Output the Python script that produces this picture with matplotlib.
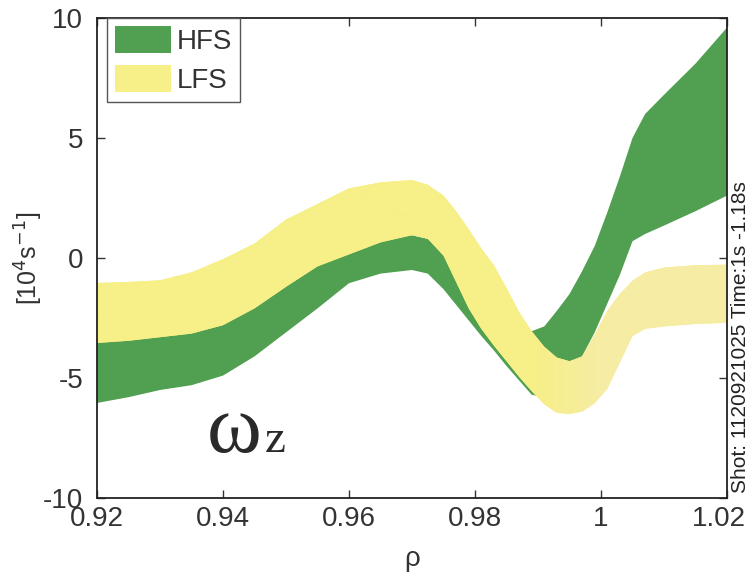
import numpy as np
import matplotlib
matplotlib.use("Agg")
import matplotlib.pyplot as plt
import matplotlib.transforms as mtransforms
from matplotlib.colors import LinearSegmentedColormap

plt.rcParams['font.family'] = ['Liberation Sans', 'DejaVu Sans']
plt.rcParams['axes.unicode_minus'] = False

# normalized radius
rho = [0.920, 0.925, 0.930, 0.935, 0.940, 0.945, 0.950, 0.955, 0.960, 0.965,
       0.970, 0.9725, 0.975, 0.977, 0.979, 0.981, 0.983, 0.985, 0.987, 0.989,
       0.991, 0.993, 0.995, 0.997, 0.999, 1.001, 1.003, 1.005, 1.007, 1.010,
       1.015, 1.020]

# HFS vorticity band [1e4 s^-1]
hfs_upper = [-3.40, -3.30, -3.15, -3.00, -2.60, -1.90, -1.00, -0.30, 0.30, 0.75,
             0.95, 0.80, 0.30, -0.30, -0.90, -1.50, -2.00, -2.50, -2.90, -3.05,
             -2.85, -2.20, -1.50, -0.55, 0.50, 1.90, 3.40, 5.00, 6.00, 6.80,
             8.10, 9.60]
hfs_lower = [-6.04, -5.80, -5.50, -5.30, -4.90, -4.10, -3.10, -2.10, -1.05, -0.65,
             -0.50, -0.65, -1.30, -1.95, -2.60, -3.25, -3.85, -4.50, -5.10, -5.70,
             -5.80, -5.50, -5.00, -4.10, -3.10, -1.90, -0.70, 0.70, 1.00, 1.35,
             1.95, 2.60]

# LFS vorticity band [1e4 s^-1]
lfs_upper = [-1.04, -1.00, -0.93, -0.60, -0.05, 0.60, 1.60, 2.25, 2.90, 3.15,
             3.25, 3.05, 2.60, 1.95, 1.20, 0.40, -0.30, -1.25, -2.25, -3.05,
             -3.70, -4.15, -4.30, -4.10, -3.20, -2.20, -1.50, -0.95, -0.60, -0.40,
             -0.30, -0.28]
lfs_lower = [-3.54, -3.45, -3.30, -3.15, -2.80, -2.10, -1.20, -0.35, 0.15, 0.65,
             0.95, 0.80, 0.10, -1.00, -2.10, -2.95, -3.65, -4.30, -4.95, -5.55,
             -6.10, -6.45, -6.50, -6.40, -6.05, -5.45, -4.35, -3.25, -2.95, -2.85,
             -2.75, -2.70]

x_ticks = [0.92, 0.94, 0.96, 0.98, 1.00, 1.02]
x_tick_labels = ["0.92", "0.94", "0.96", "0.98", "1", "1.02"]
y_ticks = [-10, -5, 0, 5, 10]
y_tick_labels = ["-10", "-5", "0", "5", "10"]

green = "#519F50"
yellow_bright = "#F7EF88"
yellow_pale = "#F6ECA4"
text_col = "#333333"

fig = plt.figure(figsize=(7.51, 5.76), dpi=100)
ax = fig.add_axes([97 / 751, 78 / 576, 630 / 751, 480 / 576])

ax.fill_between(rho, hfs_lower, hfs_upper, facecolor=green, edgecolor="none",
                label="HFS", zorder=2)
lfs = ax.fill_between(rho, lfs_lower, lfs_upper, facecolor=yellow_bright,
                      edgecolor="none", label="LFS", zorder=3)

# LFS band fades to a paler yellow past the minimum
cmap = LinearSegmentedColormap.from_list(
    "lfs", [(0.0, yellow_bright), (0.70, yellow_bright), (0.80, yellow_pale), (1.0, yellow_pale)])
grad = np.linspace(0, 1, 512).reshape(1, -1)
img = ax.imshow(grad, extent=[0.92, 1.02, -10, 10], aspect="auto", cmap=cmap,
                origin="lower", zorder=3.5, interpolation="bilinear")
img.set_clip_path(lfs.get_paths()[0], transform=ax.transData)

ax.set_xlim(0.92, 1.02)
ax.set_ylim(-10, 10)
ax.set_xticks(x_ticks)
ax.set_xticklabels(x_tick_labels)
ax.set_yticks(y_ticks)
ax.set_yticklabels(y_tick_labels)
ax.tick_params(direction="in", length=6, width=1.0, top=True, right=True,
               labelsize=20, colors=text_col, labelcolor=text_col)
ax.tick_params(axis="x", pad=6)
ax.tick_params(axis="y", pad=10)
for s in ax.spines.values():
    s.set_color("#222222")
    s.set_linewidth(1.3)
    s.set_zorder(5)

# keep the last x tick label inside the figure
last = ax.get_xticklabels()[-1]
last.set_transform(last.get_transform() +
                   mtransforms.ScaledTranslation(-6 / 72, 0, fig.dpi_scale_trans))

ax.set_xlabel("ρ", fontsize=20, color=text_col, labelpad=10)
ax.set_ylabel(r"[10$^4$s$^{-1}$]", fontsize=18, color=text_col)
ax.yaxis.set_label_coords(-0.083, 0.5)

leg = ax.legend(loc="upper left", bbox_to_anchor=(0.016, 1.0), borderaxespad=0.0,
                fontsize=20, fancybox=False, framealpha=1.0, edgecolor="#555555",
                handlelength=2.0, handleheight=1.1, handletextpad=0.2,
                labelspacing=0.35, borderpad=0.3)
leg.get_frame().set_linewidth(1.0)
for t in leg.get_texts():
    t.set_color(text_col)

# vorticity symbol
ax.text(0.9375, -8.1, "ω", fontsize=60, family="Liberation Serif",
        color="#2a2a2a", va="baseline", ha="left", zorder=6)
ax.text(0.9467, -8.1, "z", fontsize=34, family="Liberation Serif",
        color="#2a2a2a", va="baseline", ha="left", zorder=6)

fig.text(740 / 751, 1 - 493 / 576, "Shot: 1120921025 Time:1s -1.18s",
         rotation=90, fontsize=15, color="#222222", ha="center", va="bottom")

fig.savefig("out.png", dpi=100)
